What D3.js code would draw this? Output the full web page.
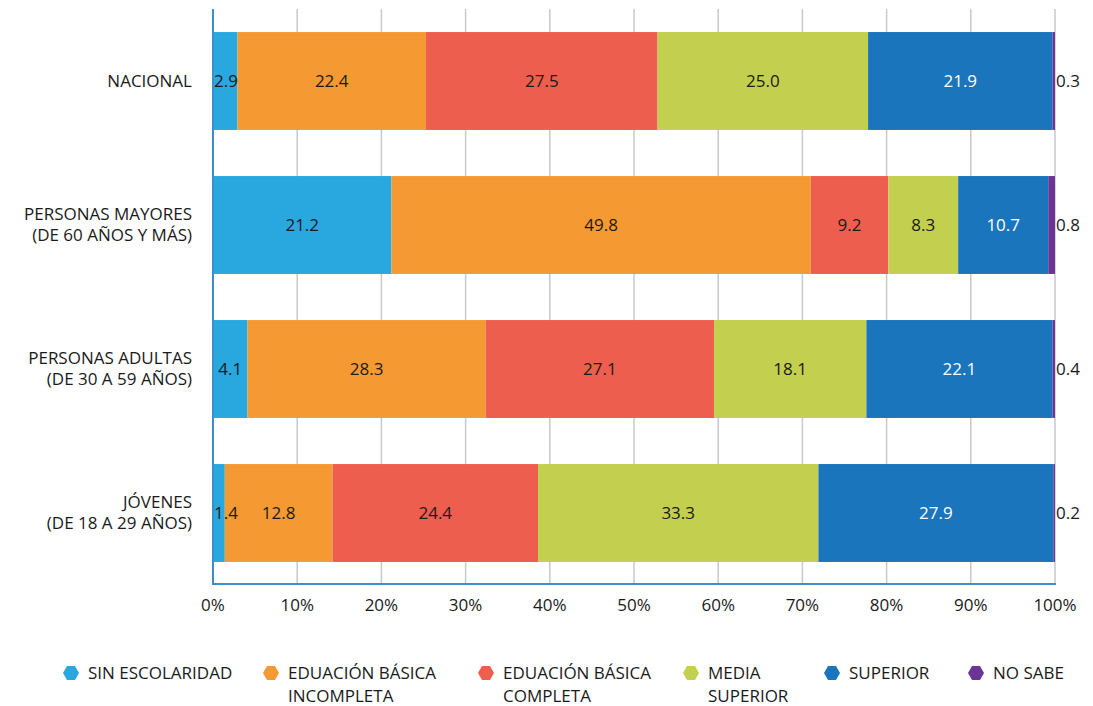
<!DOCTYPE html>
<html>
<head>
<meta charset="utf-8">
<script src="https://cdn.jsdelivr.net/npm/d3@7"></script>
<style>
  body { margin: 0; background: #fff; }
  text { font-family: "Open Sans", "Noto Sans", sans-serif; fill: #1a1a1a; }
</style>
</head>
<body>
<script>
'use strict';

//data
var categories = ['NACIONAL', 'PERSONAS MAYORES|(DE 60 AÑOS Y MÁS)', 'PERSONAS ADULTAS|(DE 30 A 59 AÑOS)', 'JÓVENES|(DE 18 A 29 AÑOS)'];
var seriesNames = ['SIN ESCOLARIDAD', 'EDUACIÓN BÁSICA|INCOMPLETA', 'EDUACIÓN BÁSICA|COMPLETA', 'MEDIA|SUPERIOR', 'SUPERIOR', 'NO SABE'];
var sinEscolaridad = [2.9, 21.2, 4.1, 1.4];
var basicaIncompleta = [22.4, 49.8, 28.3, 12.8];
var basicaCompleta = [27.5, 9.2, 27.1, 24.4];
var mediaSuperior = [25.0, 8.3, 18.1, 33.3];
var superior = [21.9, 10.7, 22.1, 27.9];
var noSabe = [0.3, 0.8, 0.4, 0.2];
var xTicks = [0, 10, 20, 30, 40, 50, 60, 70, 80, 90, 100];
var colors = ['#29a8e0', '#f59a33', '#ee5e4e', '#c3cf4e', '#1b75bc', '#6a3594'];

var keys = ['s0', 's1', 's2', 's3', 's4', 's5'];
var seriesValues = [sinEscolaridad, basicaIncompleta, basicaCompleta, mediaSuperior, superior, noSabe];
var rows = categories.map(function (c, i) {
  var row = { cat: c };
  keys.forEach(function (k, j) { row[k] = seriesValues[j][i]; });
  return row;
});

//general setup
var width = 1093, height = 706;
var fs = '17px';
var svg = d3.select('body').append('svg').attr('width', width).attr('height', height);

var x = d3.scaleLinear().domain([0, 100]).range([213, 1055]).clamp(true);
var y = d3.scaleBand().domain(categories).range([9, 585]).paddingInner(0.32).paddingOuter(0.16);

//gridlines
svg.append('g').selectAll('line').data(xTicks.slice(1)).enter().append('line')
  .attr('x1', function (d) { return x(d); }).attr('x2', function (d) { return x(d); })
  .attr('y1', 9).attr('y2', 584)
  .attr('stroke', '#c9c9c9').attr('stroke-width', 1.5);

//bars
var stack = d3.stack().keys(keys);
var layers = stack(rows);

var layerG = svg.selectAll('.layer').data(layers).enter().append('g')
  .attr('class', 'layer')
  .attr('fill', function (d, i) { return colors[i]; });

layerG.selectAll('rect').data(function (d) { return d; }).enter().append('rect')
  .attr('x', function (d) { return x(d[0]); })
  .attr('y', function (d) { return y(d.data.cat); })
  .attr('width', function (d) { return Math.max(0, x(d[1]) - x(d[0])); })
  .attr('height', y.bandwidth());

//value labels
var fmt = d3.format('.1f');
layers.forEach(function (layer, li) {
  svg.append('g').selectAll('text').data(layer).enter().append('text')
    .attr('y', function (d) { return y(d.data.cat) + y.bandwidth() / 2; })
    .attr('dy', '0.35em')
    .style('font-size', fs)
    .style('fill', li === 4 ? '#ffffff' : '#1a1a1a')
    .each(function (d) {
      var w = x(d[1]) - x(d[0]);
      var t = d3.select(this);
      if (li === 5) {
        t.attr('x', 1056).attr('text-anchor', 'start');
      } else if (w < 26) {
        t.attr('x', x(d[0]) + 1).attr('text-anchor', 'start');
      } else {
        t.attr('x', (x(d[0]) + x(d[1])) / 2).attr('text-anchor', 'middle');
      }
    })
    .text(function (d) { return fmt(d[1] - d[0]); });
});

//axes
svg.append('line').attr('x1', 213).attr('x2', 213).attr('y1', 9).attr('y2', 585)
  .attr('stroke', '#3d8fcc').attr('stroke-width', 2);
svg.append('line').attr('x1', 212).attr('x2', 1056).attr('y1', 584).attr('y2', 584)
  .attr('stroke', '#3d8fcc').attr('stroke-width', 2);

svg.append('g').selectAll('text').data(xTicks).enter().append('text')
  .attr('x', function (d) { return x(d); })
  .attr('y', 611)
  .attr('text-anchor', 'middle')
  .style('font-size', fs)
  .text(function (d) { return d + '%'; });

//category labels
categories.forEach(function (c) {
  var lines = c.split('|');
  var cy = y(c) + y.bandwidth() / 2;
  var t = svg.append('text').attr('text-anchor', 'end').style('font-size', fs);
  lines.forEach(function (l, i) {
    t.append('tspan').attr('x', 192)
      .attr('y', cy + (i - (lines.length - 1) / 2) * 21)
      .attr('dy', '0.35em').text(l);
  });
});

//legend
var legX = [71, 271, 486, 691, 832, 976];
var hex = function (cx, cy) {
  var r = 8, h = 7;
  return [[cx - r, cy], [cx - r / 2, cy - h], [cx + r / 2, cy - h], [cx + r, cy], [cx + r / 2, cy + h], [cx - r / 2, cy + h]]
    .map(function (p) { return p.join(','); }).join(' ');
};
seriesNames.forEach(function (name, i) {
  var g = svg.append('g');
  g.append('polygon').attr('points', hex(legX[i], 673)).attr('fill', colors[i]);
  var t = g.append('text').style('font-size', fs);
  name.split('|').forEach(function (l, j) {
    t.append('tspan').attr('x', legX[i] + 17).attr('y', 673 + j * 23).attr('dy', '0.35em').text(l);
  });
});
</script>
</body>
</html>
